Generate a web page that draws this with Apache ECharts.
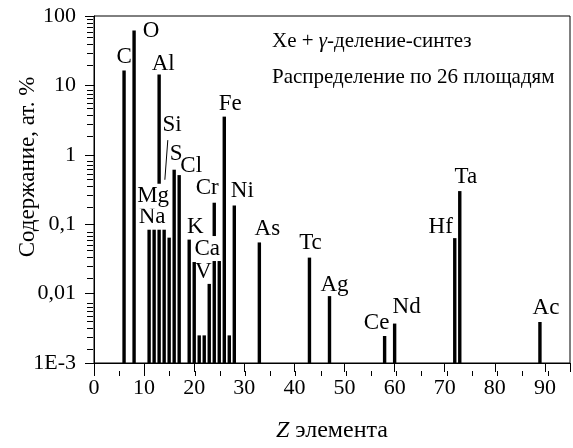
<!DOCTYPE html>
<html>
<head>
<meta charset="utf-8">
<script src="https://cdn.jsdelivr.net/npm/echarts@6/dist/echarts.min.js"></script>
<style>
html, body { margin: 0; padding: 0; background: #fff; }
#chart { width: 573px; height: 448px; }
</style>
</head>
<body>
<div id="chart"></div>
<script>
// atomic number, element symbol ('' = no label), content in at.%
var zNumbers = [6, 8, 11, 12, 13, 14, 15, 16, 17, 19, 20, 21, 22, 23, 24, 25, 26, 27, 28, 33, 43, 47, 58, 60, 72, 73, 89];
var elements = ['C', 'O', 'Na', 'Mg', 'Al', 'Si', '', 'S', 'Cl', 'K', 'Ca', '', '', 'V', 'Cr', '', 'Fe', '', 'Ni', 'As', 'Tc', 'Ag', 'Ce', 'Nd', 'Hf', 'Ta', 'Ac'];
var contents = [16.4, 62, 0.092, 0.092, 14.3, 0.37, 0.064, 0.61, 0.51, 0.06, 0.0285, 0.0025, 0.0025, 0.0138, 0.204, 0.031, 3.55, 0.0025, 0.186, 0.0546, 0.033, 0.0092, 0.00245, 0.0037, 0.063, 0.30, 0.0039];
var yTickLabels = ['1E-3', '0,01', '0,1', '1', '10', '100'];
var noteLines = ['Xe + {i|γ}-деление-синтез', 'Распределение по 26 площадям'];

var FONT = 'Liberation Serif';

// label nudges [dx, dy] relative to default 'top' position
var labelShift = {
	C: [0, 1], O: [17, 15], Na: [3, 6], Mg: [-1, -15], Al: [4, 4], Si: [8, -45],
	S: [2, -1], Cl: [12, 5], K: [6, 2], Ca: [13, 2], V: [-6, 3], Cr: [-7, 0],
	Fe: [6, 2], Ni: [8, 0], As: [8, 1], Tc: [1, 0], Ag: [5, 3], Ce: [-8, 1],
	Nd: [12, -2], Hf: [-14, 3], Ta: [6, 0], Ac: [6, 0]
};
var whiteBox = { Mg: true, Na: true, Ca: true };

// minor ticks of the log axis, as exponents
var minorLogs = (function () {
	var out = [];
	for (var ex = -3; ex < 2; ex++) {
		for (var kk = 2; kk <= 9; kk++) out.push(ex + Math.log10(kk));
	}
	return out;
})();

function buildOption() {
	var barData = zNumbers.map(function (z, i) {
		var sym = elements[i];
		var item = { value: [z, contents[i]], name: sym };
		if (sym) {
			item.label = { show: true, offset: labelShift[sym] || [0, 0] };
			if (whiteBox[sym]) {
				item.label.backgroundColor = '#fff';
				item.label.padding = [1, 1];
			}
		} else {
			item.label = { show: false };
		}
		return item;
	});

	// leader line of the Si label, in data coordinates
	var siIdx = elements.indexOf('Si');
	var siLine = [[
		{ coord: [zNumbers[siIdx] + 0.14, contents[siIdx] * 1.18] },
		{ coord: [zNumbers[siIdx] + 0.73, contents[siIdx] * 4.4] }
	]];

	var off = { show: false };
	var blackSplit = { show: true, lineStyle: { color: '#000', width: 1 } };

	return {
		animation: false,
		grid: [
			{ left: 94, top: 16, width: 484, height: 355, show: true, borderColor: '#000', borderWidth: 1 },
			// thin strip left of the y axis: log minor ticks
			{ left: 87, top: 16, width: 6, height: 355 },
			// thin strip under the x axis: minor ticks every 5
			{ left: 94, top: 371, width: 484, height: 5 }
		],
		xAxis: [
			{
				type: 'value', min: 0, max: 95, interval: 10, gridIndex: 0,
				name: '{i|Z} элемента', nameLocation: 'middle', nameGap: 56,
				nameTextStyle: {
					fontFamily: FONT, fontSize: 24, color: '#000',
					rich: { i: { fontFamily: FONT, fontSize: 24, fontStyle: 'italic', color: '#000' } }
				},
				axisLine: { onZero: false, lineStyle: { color: '#000' } },
				axisTick: { length: 9, lineStyle: { color: '#000' } },
				axisLabel: {
					fontFamily: FONT, fontSize: 22, color: '#000', margin: 14,
					formatter: function (v) { return v % 10 === 0 ? String(v) : ''; }
				},
				splitLine: off
			},
			{ type: 'value', gridIndex: 1, min: 0, max: 1, axisLine: off, axisTick: off, axisLabel: off, splitLine: off },
			{ type: 'value', gridIndex: 2, min: 0, max: 95, interval: 5, axisLine: off, axisTick: off, axisLabel: off, splitLine: blackSplit }
		],
		yAxis: [
			{
				type: 'log', min: 0.001, max: 100, startValue: 0.001, gridIndex: 0,
				axisLine: { show: true, onZero: false, lineStyle: { color: '#000' } },
				axisTick: { length: 9, lineStyle: { color: '#000' } },
				axisLabel: {
					fontFamily: FONT, fontSize: 22, color: '#000', margin: 18,
					formatter: function (v) { return yTickLabels[Math.round(Math.log10(v)) + 3]; }
				},
				splitLine: off
			},
			{
				type: 'value', gridIndex: 1, min: -3, max: 2,
				axisLine: off,
				axisTick: { show: true, length: 0, customValues: minorLogs },
				axisLabel: { show: true, customValues: minorLogs, formatter: function () { return ''; } },
				splitLine: blackSplit
			},
			{ type: 'value', gridIndex: 2, min: 0, max: 1, axisLine: off, axisTick: off, axisLabel: off, splitLine: off }
		],
		series: [{
			type: 'bar', xAxisIndex: 0, yAxisIndex: 0,
			barWidth: 3.4, itemStyle: { color: '#000' },
			label: { position: 'top', distance: 3, fontFamily: FONT, fontSize: 23, color: '#000', formatter: '{b}' },
			markLine: {
				silent: true,
				symbol: ['none', 'none'],
				label: { show: false },
				lineStyle: { color: '#000', width: 1, type: 'solid' },
				data: siLine
			},
			data: barData
		}],
		graphic: [
			{ type: 'text', x: 28, y: 167, rotation: Math.PI / 2,
			  style: { text: 'Содержание, ат. %', fontFamily: FONT, fontSize: 23, fill: '#000', textAlign: 'center', textVerticalAlign: 'middle' } },
			{ type: 'text', x: 272, y: 41,
			  style: { text: noteLines[0], fontFamily: FONT, fontSize: 21, fill: '#000', textVerticalAlign: 'middle',
			           rich: { i: { fontFamily: FONT, fontSize: 21, fontStyle: 'italic', fill: '#000' } } } },
			{ type: 'text', x: 272, y: 77,
			  style: { text: noteLines[1], fontFamily: FONT, fontSize: 21, fill: '#000', textVerticalAlign: 'middle' } }
		]
	};
}

var myChart = echarts.init(document.getElementById('chart'));
myChart.setOption(buildOption(), true);

// draw again once the local serif font is surely available to the canvas
function redraw() { myChart.setOption(buildOption(), true); }
if (document.fonts && document.fonts.ready) document.fonts.ready.then(function () { setTimeout(redraw, 100); });
setTimeout(redraw, 500);
</script>
</body>
</html>
